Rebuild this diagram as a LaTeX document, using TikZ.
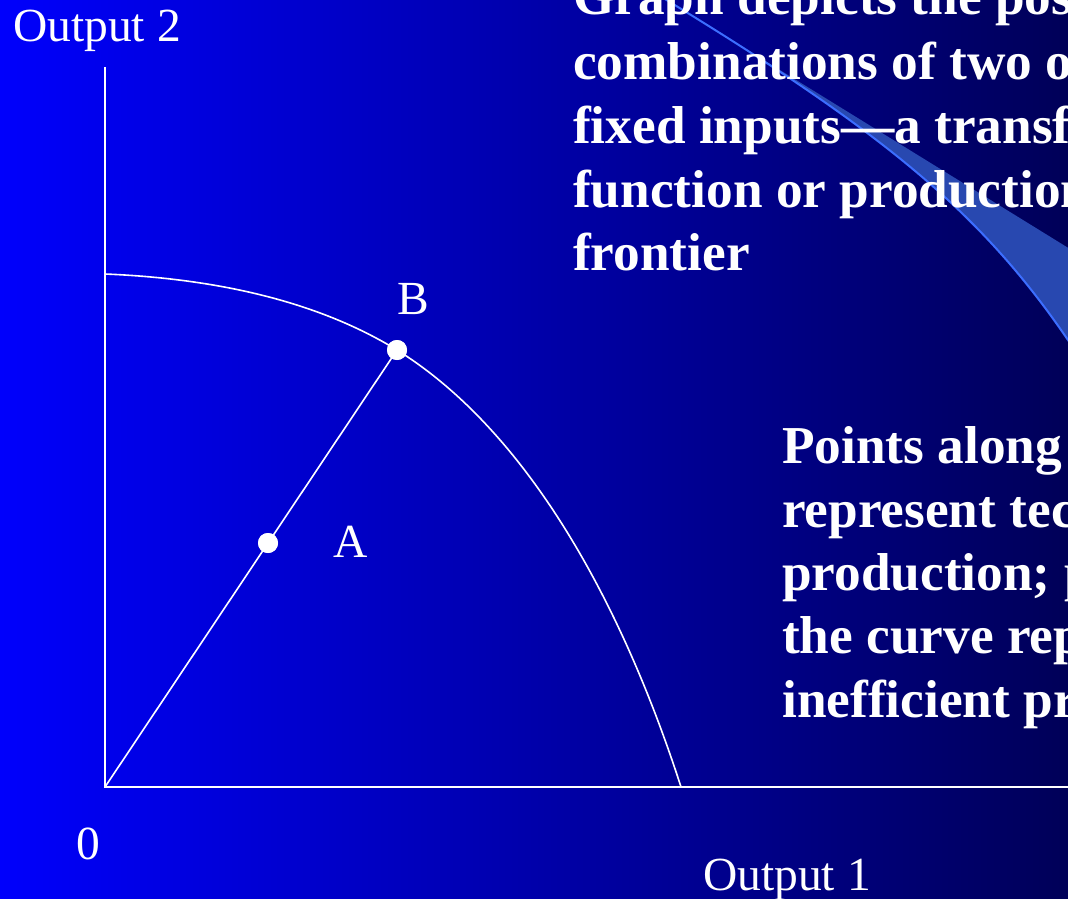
\documentclass[tikz,border=0pt]{standalone}
\usepackage{fontspec}
\setmainfont{Liberation Serif}
\begin{document}
\begin{tikzpicture}[x=1pt,y=-1pt,
  axis/.style={draw=white,line width=1.6pt},
  curve/.style={draw=white,line width=1.6pt},
  dot/.style={circle,fill=white,inner sep=0pt,minimum size=20pt},
  lbl/.style={text=white,font=\fontsize{47.5}{54}\selectfont,inner sep=0pt,anchor=base west},
  txt/.style={text=white,font=\fontsize{53.3}{63}\selectfont\bfseries,inner sep=0pt,anchor=base west}]
\useasboundingbox (0,0) rectangle (1068,899);
\clip (0,0) rectangle (1068,899);
\shade[left color={rgb,255:red,0;green,0;blue,252},right color={rgb,255:red,0;green,0;blue,88}] (0,0) rectangle (1068,899);
% callout wedge
\fill[fill={rgb,255:red,40;green,72;blue,176}]
  (660,-4) -- (1070,249) -- (1070,343)
  .. controls (980,210) and (880,130) .. (660,-4) -- cycle;
\draw[draw={rgb,255:red,60;green,110;blue,255},line width=2pt]
  (660,-4) .. controls (880,130) and (980,210) .. (1070,343);
% axes
\coordinate (O) at (105,787);
\coordinate (ytop) at (105,67);
\coordinate (xend) at (1070,787);
\coordinate (C0) at (105,274);
\coordinate (C1) at (681,787);
\draw[axis] (ytop) -- (O) -- (xend);
\node[dot] (B) at (397,350) {};
\node[dot] (A) at (268,543) {};
\draw[curve] (C0) .. controls (250,280) and (340,315) .. (B.center) .. controls (527,431) and (621,601) .. (C1);
\draw[curve] (O) -- (B.center);
\node[dot] at (B.center) {};
\node[dot] at (A.center) {};
% labels
\node[lbl] (lo2) at (13,42) {Output 2};
\node[lbl] (lB) at (397,314) {B};
\node[lbl] (lA) at (333,557) {A};
\node[lbl] (l0) at (76,859) {0};
\node[lbl] (lo1) at (703,890) {Output 1};
% text block 1
\node[txt] (t1) at (573,15) {Graph depicts the pos};
\node[txt] (t2) at (573,79) {combinations of two o};
\node[txt] (t3) at (573,143) {fixed inputs—a transf};
\node[txt] (t4) at (573,207) {function or production};
\node[txt] (t5) at (573,270) {frontier};
% text block 2
\node[txt] (u1) at (782,463) {Points along};
\node[txt] (u2) at (782,527) {represent tec};
\node[txt] (u3) at (782,590) {production; p};
\node[txt] (u4) at (782,653) {the curve rep};
\node[txt] (u5) at (782,717) {inefficient pr};
\end{tikzpicture}
\end{document}
